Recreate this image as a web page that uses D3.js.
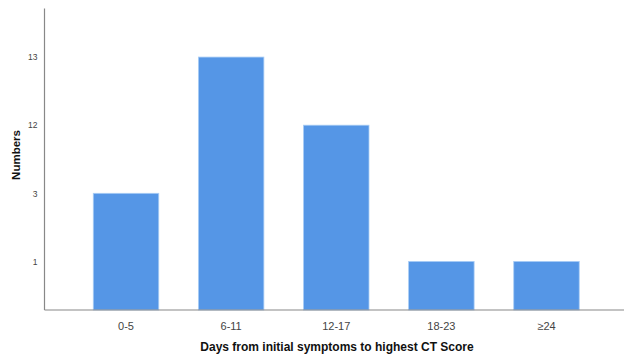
<!DOCTYPE html>
<html><head><meta charset="utf-8">
<script src="https://cdn.jsdelivr.net/npm/d3@7"></script>
<style>body{margin:0;background:#fff}svg{display:block}text{font-family:"Liberation Sans",Arial,sans-serif}</style>
</head><body><svg id="c" width="624" height="357"></svg>
<script>
const categories = ["0-5", "6-11", "12-17", "18-23", "≥24"];
const counts = [3, 13, 12, 1, 1];
const yTickLabels = [1, 3, 12, 13];
const xTitle = "Days from initial symptoms to highest CT Score";
const yTitle = "Numbers";

const svg = d3.select("#c");
const mLeft = 44.5, mRight = 628, mTop = 8.5, mBottom = 310;

const x = d3.scaleBand().domain(categories).range([mLeft, mRight])
  .paddingInner(0.377).paddingOuter(0.464);
const y = d3.scalePoint().domain(yTickLabels).range([mBottom, mTop]).padding(0.713);

svg.append("g").selectAll("rect").data(categories).join("rect")
  .attr("x", d => x(d))
  .attr("y", (d, i) => y(counts[i]))
  .attr("width", x.bandwidth())
  .attr("height", (d, i) => mBottom - y(counts[i]))
  .attr("fill", "#5596E6")
  .attr("stroke", "#a9cdf5")
  .attr("stroke-width", 0.8);

// y axis
const ya = svg.append("g").attr("transform", `translate(${mLeft},0)`)
  .call(d3.axisLeft(y).tickSize(0).tickPadding(7));
ya.select(".domain").remove();
ya.selectAll("text").attr("font-size", 8.5).attr("fill", "#444")
  .attr("font-family", "Liberation Sans, Arial, sans-serif");
svg.append("line").attr("x1", mLeft).attr("x2", mLeft).attr("y1", mTop).attr("y2", mBottom)
  .attr("stroke", "#888").attr("stroke-width", 1.2);

// x axis
const xa = svg.append("g").attr("transform", `translate(0,${mBottom})`)
  .call(d3.axisBottom(x).tickSize(0).tickPadding(12));
xa.select(".domain").remove();
xa.selectAll("text").attr("font-size", 11).attr("fill", "#444")
  .attr("font-family", "Liberation Sans, Arial, sans-serif");
svg.append("line").attr("x1", mLeft).attr("x2", 624).attr("y1", mBottom).attr("y2", mBottom)
  .attr("stroke", "#888").attr("stroke-width", 1.2);

svg.append("text").attr("x", 337).attr("y", 350.5).attr("text-anchor", "middle")
  .attr("font-size", 12).attr("font-weight", "bold").attr("fill", "#111").text(xTitle);
svg.append("text").attr("transform", "translate(19.5,155) rotate(-90)").attr("text-anchor", "middle")
  .attr("font-size", 11.5).attr("font-weight", "bold").attr("fill", "#111").text(yTitle);
</script></body></html>
